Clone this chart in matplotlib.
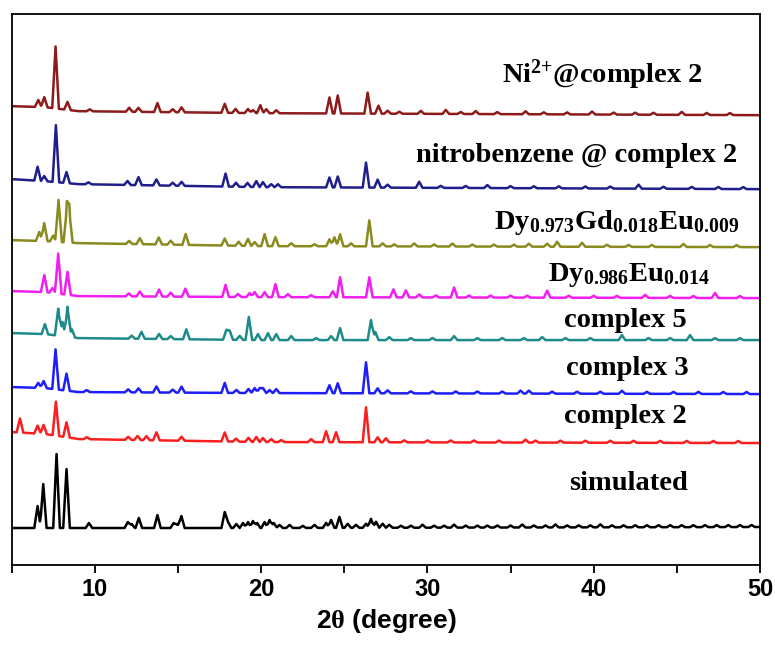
import numpy as np
import matplotlib
matplotlib.use('Agg')
import matplotlib.pyplot as plt
from matplotlib.ticker import MultipleLocator

plt.rcParams['mathtext.fontset'] = 'custom'
plt.rcParams['mathtext.rm'] = 'Liberation Serif:bold'
plt.rcParams['mathtext.it'] = 'Liberation Serif:bold'
plt.rcParams['mathtext.bf'] = 'Liberation Serif:bold'

# peak lists (2theta, height), heights in pixel-like units
ni_peaks = [(6.58,7),(6.94,10),(7.62,62),(8.34,8),(9.68,2),(12.05,4),(12.61,4),(13.75,9),(14.67,3),(15.2,5),
            (17.8,9),(18.45,4),(19.2,4),(19.5,3),(19.94,8),(20.3,4),(20.9,3),(24.1,16),(24.6,18),(26.4,21),
            (27.05,8),(27.6,3),(28.3,2),(29.6,3),(31.1,4),(32.0,2),(32.9,3),(34.2,2),(35.9,3),(37.0,2),
            (38.4,2),(39.9,3),(41.2,2),(42.5,2),(43.6,2),(45.3,3),(46.8,2),(48.2,2)]
nitro_peaks = [(6.54,14),(6.94,5),(7.64,57),(8.28,11),(9.6,2),(11.95,4),(12.61,8),(13.69,6),(14.67,3),(15.2,4),
               (17.85,13),(18.48,4),(19.17,4),(19.7,6),(20.1,5),(20.6,3),(21.0,3),(24.1,10),(24.6,11),(26.3,25),
               (27.0,8),(27.6,3),(29.5,6),(30.8,2),(32.3,2),(33.6,3),(35.0,2),(36.4,2),(37.9,2),(39.5,2),
               (41.0,2),(42.7,4),(44.2,2),(45.9,2),(47.5,2),(49.0,2)]
dygdeu_peaks = [(6.64,9),(6.94,18),(7.48,6),(7.8,42),(8.3,34),(8.45,30),(12.05,3),(12.69,6),(13.83,7),(14.55,4),
                (15.45,11),(17.8,7),(18.64,4),(19.2,7),(19.6,4),(20.2,12),(20.85,9),(21.8,3),(23.2,2),(24.1,7),
                (24.4,9),(24.74,12),(25.4,3),(26.5,26),(27.3,3),(28.0,2),(29.2,3),(30.4,2),(31.5,3),(32.7,2),
                (34.0,2),(35.2,2),(36.1,3),(37.2,3),(37.8,5),(39.3,4),(40.8,2),(42.1,2),(43.5,2),(45.4,3),
                (47.0,2),(48.6,2)]
dyeu_peaks = [(6.94,17),(7.44,5),(7.78,40),(8.34,23),(12.03,3),(12.69,5),(13.85,7),(14.55,4),(15.43,8),(17.85,12),
              (18.6,3),(19.3,4),(19.6,5),(20.2,5),(20.85,13),(21.6,3),(23.0,2),(24.3,6),(24.74,20),(26.5,20),
              (27.95,8),(28.7,7),(29.5,3),(30.5,2),(31.6,10),(32.5,2),(33.8,2),(35.0,2),(36.0,2),(37.2,7),
              (38.5,2),(40.0,2),(41.4,2),(43.1,3),(44.6,2),(46.0,2),(47.3,5),(48.8,2)]
c5_peaks = [(6.98,10),(7.78,27),(8.04,14),(8.34,30),(8.6,8),(12.2,3),(12.79,7),(13.85,5),(14.55,3),(15.49,10),
            (17.9,10),(18.1,9),(18.7,4),(19.25,23),(19.8,6),(20.4,7),(20.9,6),(21.8,4),(23.3,2),(24.2,4),
            (24.74,12),(26.6,20),(26.86,8),(27.7,3),(29.0,2),(30.3,2),(31.6,4),(33.0,2),(34.5,2),(35.8,2),
            (36.9,3),(38.3,2),(39.8,2),(41.7,5),(43.3,2),(44.6,2),(45.8,5),(47.3,2),(48.8,2)]
c3_peaks = [(6.58,5),(6.9,7),(7.62,40),(8.28,17),(9.49,2),(11.99,3),(12.61,4),(13.69,6),(14.67,3),(15.2,6),
            (17.8,10),(18.5,3),(19.23,4),(19.6,5),(19.9,5),(20.1,5),(20.5,3),(20.9,4),(24.1,8),(24.6,10),
            (26.3,31),(27.0,5),(27.6,3),(29.0,2),(30.3,2),(31.7,2),(33.0,2),(34.5,2),(35.6,3),(36.1,3),
            (37.5,2),(39.0,2),(40.4,2),(41.7,3),(43.2,2),(44.8,2),(46.3,2),(47.8,2),(49.2,2)]
c2_peaks = [(5.48,14),(6.54,8),(6.9,9),(7.64,34),(8.28,15),(9.5,2),(11.99,3),(12.55,4),(13.09,4),(13.69,8),
            (15.2,4),(17.8,9),(18.48,3),(19.23,4),(19.7,5),(20.1,4),(20.6,3),(21.2,2),(23.0,3),(23.9,11),
            (24.5,10),(26.3,35),(27.0,5),(27.5,4),(28.6,2),(30.0,2),(31.4,2),(32.8,2),(34.3,2),(35.9,3),
            (36.5,2),(38.0,2),(39.5,2),(41.0,2),(42.4,2),(44.0,2),(45.6,2),(47.2,2),(48.7,2)]
sim_peaks = [(6.54,22),(6.88,44),(7.68,74),(8.28,59),(9.63,5),(11.97,6),(12.2,4),(12.63,10),(13.75,13),(14.73,5),
             (14.95,4),(15.19,12),(17.8,16),(18.0,6),(18.5,4),(18.9,5),(19.2,6),(19.5,7),(19.75,5),(20.2,6),
             (20.5,8),(20.75,5),(21.1,3),(21.7,3),(22.5,2),(23.2,3),(23.9,5),(24.2,8),(24.7,11),(25.2,4),
             (25.7,3),(26.3,4),(26.6,9),(26.9,6),(27.3,4),(27.7,3),(28.4,2),(29.0,2),(29.7,3),(30.4,2),
             (31.0,2),(31.6,3),(32.3,2),(33.0,2),(33.6,2),(34.2,2),(35.0,2),(35.7,3),(36.4,2),(37.1,2),
             (37.7,3),(38.4,2),(39.1,2),(39.8,2),(40.4,3),(41.1,2),(41.8,2),(42.5,2),(43.2,2),(43.9,2),
             (44.6,2),(45.3,2),(46.0,2),(46.7,2),(47.4,2),(48.1,2),(48.8,2),(49.5,2)]

# baseline level of each trace at these 2theta positions
base_x = [5, 7, 9, 20, 50]
ni_base = [459, 458, 454, 452, 450]
nitro_base = [386, 384, 381, 378, 376]
dygdeu_base = [325, 324, 322, 319, 318]
dyeu_base = [274, 273, 269, 268, 267]
c5_base = [232, 231, 227, 225, 225]
c3_base = [178, 177, 173, 172, 171]
c2_base = [133, 131, 126, 123, 122]
sim_base = [37, 37, 37, 37, 38]

labels = [r'Ni$^{2{+}}$@complex 2', 'nitrobenzene @ complex 2',
          r'Dy$_{0.973}$Gd$_{0.018}$Eu$_{0.009}$', r'Dy$_{0.986}$Eu$_{0.014}$',
          'complex 5', 'complex 3', 'complex 2', 'simulated']
label_x = [40.5, 39.0, 41.4, 42.1, 41.9, 42.05, 41.9, 42.1]
label_y = [490, 410, 343, 290, 245, 197, 149, 82]

colors = ['#8e1b1b', '#1f1f8c', '#8a8a1e', '#f01ef0', '#1e8a8a', '#1e1efa', '#fa1e1e', '#000000']

def build_trace(peaks, base, w=0.2):
    xs = [5.0, 50.0] + list(base_x)
    for c, h in peaks:
        xs += [c - w, c, c + w]
    xs = np.unique(np.clip(xs, 5.0, 50.0))
    ys = np.interp(xs, base_x, base)
    for c, h in peaks:
        ys = ys + h * np.clip(1 - np.abs(xs - c) / w, 0, None)
    return xs, ys

traces = [(ni_peaks, ni_base), (nitro_peaks, nitro_base), (dygdeu_peaks, dygdeu_base),
          (dyeu_peaks, dyeu_base), (c5_peaks, c5_base), (c3_peaks, c3_base),
          (c2_peaks, c2_base), (sim_peaks, sim_base)]

fig = plt.figure(figsize=(7.75, 6.46), dpi=100)
ax = fig.add_axes([0.0155, 0.1254, 0.965, 0.8526])

for (pk, bs), col in zip(traces, colors):
    x, y = build_trace(pk, bs)
    ax.plot(x, y, color=col, lw=1.8)

for t, tx, ty in zip(labels, label_x, label_y):
    ax.text(tx, ty, t, ha='center', va='center', fontsize=20.5,
            family='Liberation Serif', weight='bold')

ax.set_xlim(5, 50)
ax.set_ylim(0, 551)
ax.set_yticks([])
ax.xaxis.set_major_locator(MultipleLocator(10))
ax.xaxis.set_minor_locator(MultipleLocator(5))
ax.tick_params(axis='x', which='both', direction='out', length=6, width=1.3)
for lab in ax.get_xticklabels():
    lab.set_family(['Liberation Sans Narrow', 'Liberation Sans'])
    lab.set_weight('bold')
    lab.set_fontsize(17)
for s in ax.spines.values():
    s.set_linewidth(1.3)
ax.set_xlabel(r'2$\theta$ (degree)', fontsize=19, weight='bold',
              family=['Liberation Sans Narrow', 'Liberation Sans'], labelpad=4)

plt.savefig('out.png', dpi=100)
